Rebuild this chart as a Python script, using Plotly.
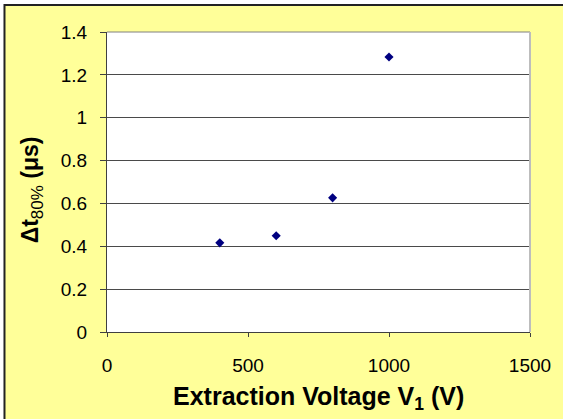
import plotly.graph_objects as go

# Data
voltage = [400, 600, 800, 1000]
dt80 = [0.416, 0.449, 0.626, 1.283]
x_ticks = [0, 500, 1000, 1500]
y_ticks = [0, 0.2, 0.4, 0.6, 0.8, 1, 1.2, 1.4]

W, H = 563, 419
L, R, T, B = 107, 31, 32, 87
PW, PH = W - L - R, H - T - B

def xp(px):
    return (px - L) / PW

def yp(py):
    return (H - B - py) / PH

FONT = "Liberation Sans, Arial, sans-serif"

fig = go.Figure()
fig.add_trace(go.Scatter(
    x=voltage, y=dt80, mode="markers",
    marker=dict(symbol="diamond", size=7, color="#000080",
                line=dict(width=0)),
    showlegend=False, cliponaxis=False,
))

fig.update_layout(
    width=W, height=H,
    margin=dict(l=L, r=R, t=T, b=B),
    paper_bgcolor="white",
    plot_bgcolor="white",
    font=dict(family=FONT, color="black"),
    xaxis=dict(
        range=[0, 1500], tickvals=x_ticks, ticktext=[str(v) for v in x_ticks],
        showgrid=False, zeroline=False,
        showline=True, linecolor="#404040", linewidth=1,
        ticks="outside", ticklen=4, tickcolor="#404040", tickwidth=1,
        tickfont=dict(size=19, family=FONT),
        ticklabelstandoff=12,
    ),
    yaxis=dict(
        range=[0, 1.4], tickvals=y_ticks, ticktext=[f"{v:g}" for v in y_ticks],
        showgrid=True, gridcolor="#4a4a4a", gridwidth=1, zeroline=False,
        showline=True, linecolor="#404040", linewidth=1,
        ticks="outside", ticklen=6, tickcolor="#404040", tickwidth=1,
        tickfont=dict(size=19, family=FONT),
        ticklabelstandoff=9,
    ),
    shapes=[
        dict(type="rect", xref="paper", yref="paper",
             x0=xp(4), x1=xp(W + 10), y0=yp(5), y1=yp(H + 10),
             fillcolor="#FFFF99", line=dict(color="#222222", width=2),
             layer="below"),
        dict(type="rect", xref="paper", yref="paper",
             x0=0, x1=1, y0=0, y1=1,
             fillcolor="white", line=dict(width=0), layer="below"),
        dict(type="line", xref="paper", yref="paper",
             x0=0, x1=1, y0=1, y1=1,
             line=dict(color="#808080", width=1), layer="above"),
        dict(type="line", xref="paper", yref="paper",
             x0=1, x1=1, y0=0, y1=1,
             line=dict(color="#BDBDBD", width=2), layer="above"),
    ],
    annotations=[
        dict(text="<b>Extraction Voltage V</b><sub><b>1</b></sub><b> (V)</b>",
             xref="paper", yref="paper", x=0.5, y=yp(398),
             xanchor="center", yanchor="middle", showarrow=False,
             font=dict(size=25, family=FONT)),
        dict(text="<b>Δt</b><sub><span style='font-size:17px'>80%</span></sub><b> (μs)</b>",
             xref="paper", yref="paper", x=xp(32), y=yp(190),
             xanchor="center", yanchor="middle", showarrow=False,
             textangle=-90,
             font=dict(size=23, family=FONT)),
    ],
)

fig.write_html("out.html")
